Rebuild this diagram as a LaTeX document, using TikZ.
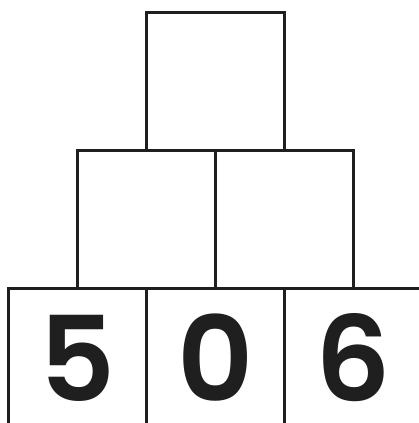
\documentclass[tikz,border=0pt]{standalone}
\usepackage{fontspec}
\setmainfont{Poppins}[BoldFont={Poppins SemiBold}]
\usetikzlibrary{positioning}

\begin{document}
\begin{tikzpicture}[x=1pt,y=1pt, brick/.style={draw=black!88,line width=3pt,minimum size=138pt,inner sep=0pt,outer sep=0pt}, num/.style={font=\fontsize{118}{118}\selectfont\bfseries,text=black!88}]
\useasboundingbox (0,0) rectangle (419,423);
\clip (0,0) rectangle (419,423);
% bottom row
\node[brick,num] (b1) at (77.5,65) {5};
\node[brick,num,right=0pt of b1] (b2) {0};
\node[brick,num,right=0pt of b2] (b3) {6};
% middle row
\node[brick,above=0pt of b1.north east] (m1) {};
\node[brick,right=0pt of m1] (m2) {};
% top
\node[brick,above=0pt of m1.north east] (top) {};
\end{tikzpicture}
\end{document}
